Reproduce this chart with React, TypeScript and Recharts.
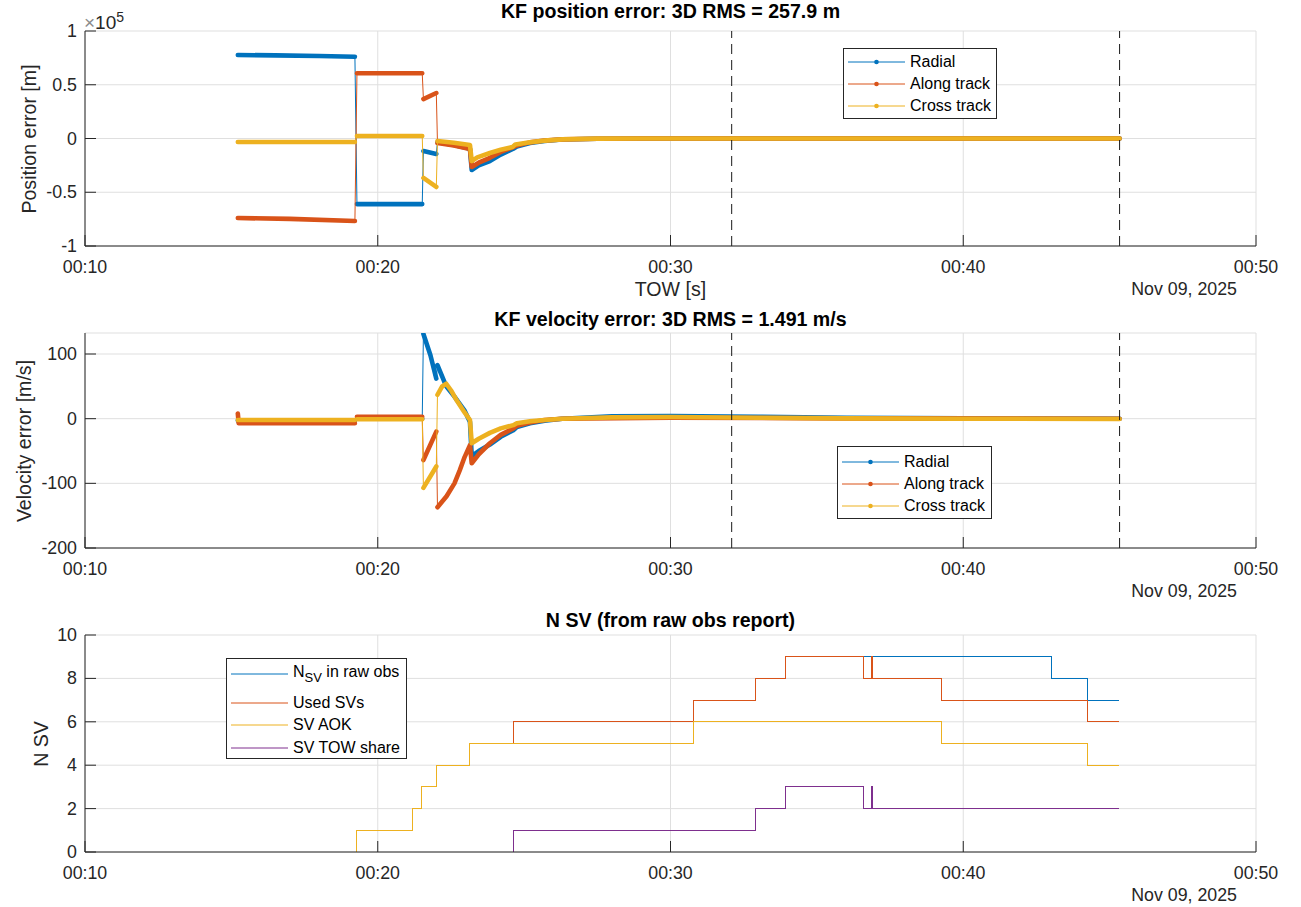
import type { ReactNode } from 'react'
import { LineChart, Line, XAxis, YAxis, CartesianGrid, ReferenceLine } from 'recharts'

// ─── Data ─────────────────────────────────────────────────────────────────────
// time is minutes after 00:00 (Nov 09, 2025). Each series is a list of segments;
// inside a segment the samples are dense (drawn thick), between segments only
// the thin connecting line is visible.

type Pt = [number, number]

// position error, metres
const posRadial: Pt[][] = [
  [[15.22, 77700], [16.5, 77300], [18, 76700], [19.22, 76100]],
  [[19.29, -61000], [21.52, -61000]],
  [[21.56, -11600], [22.0, -14400]],
  [[22.04, -3500], [22.6, -6000], [23.15, -9500], [23.21, -29300], [23.45, -25000], [23.83, -21000], [24.2, -15000], [24.63, -9500], [24.75, -7500], [25.2, -4200], [25.7, -2200], [26.3, -1000], [27.5, -300], [29, 0], [45.34, 0]],
]
const posAlong: Pt[][] = [
  [[15.22, -74000], [17, -74800], [19.22, -76700]],
  [[19.29, 60700], [21.52, 60700]],
  [[21.56, 36700], [22.0, 42300]],
  [[22.04, -4200], [22.6, -6500], [23.15, -9800], [23.21, -26500], [23.45, -22500], [23.83, -18000], [24.2, -12500], [24.63, -8000], [24.75, -6500], [25.2, -3600], [25.7, -1800], [26.3, -800], [27.5, -200], [29, 0], [45.34, 0]],
]
const posCross: Pt[][] = [
  [[15.22, -3300], [19.22, -3300]],
  [[19.29, 2300], [21.52, 2300]],
  [[21.56, -36700], [22.0, -45100]],
  [[22.04, -2300], [22.6, -4000], [23.15, -6000], [23.21, -21000], [23.4, -17500], [23.83, -13500], [24.2, -10500], [24.6, -8000], [24.7, -5500], [25.2, -3500], [25.7, -2000], [26.3, -800], [27.5, -150], [29, 0], [45.34, 0]],
]

// velocity error, m/s
const velRadial: Pt[][] = [
  [[15.22, -3], [19.22, -3]],
  [[19.29, 0], [21.52, 0]],
  [[21.56, 131], [21.8, 98], [22.0, 62]],
  [[22.04, 83], [22.34, 50], [22.62, 34], [22.96, 13], [23.15, -5], [23.21, -58], [23.45, -50], [23.83, -40], [24.2, -28], [24.63, -18], [24.75, -13], [25.2, -7], [25.7, -3], [26.3, 0], [28, 3.5], [30, 4], [33, 3], [36, 1.5], [40, 0.5], [45.34, 0]],
]
const velAlong: Pt[][] = [
  [[15.22, 8], [15.25, -7], [19.22, -7]],
  [[19.29, 3], [21.52, 3]],
  [[21.56, -64], [22.0, -20]],
  [[22.04, -137], [22.35, -120], [22.62, -100], [22.8, -80], [22.97, -59], [23.15, -41], [23.21, -69], [23.45, -55], [23.83, -38], [24.2, -25], [24.63, -15], [24.75, -11], [25.2, -6], [25.7, -2], [26.3, 0], [30, 1.5], [36, 0.5], [45.34, 0]],
]
const velCross: Pt[][] = [
  [[15.22, -2], [19.22, -2]],
  [[19.29, -1], [21.52, -1]],
  [[21.56, -107], [22.0, -74]],
  [[22.04, 37], [22.2, 50], [22.34, 54], [22.5, 44], [22.7, 28], [22.96, 10], [23.15, -2], [23.21, -38], [23.45, -31], [23.83, -22], [24.2, -15], [24.63, -10], [24.75, -7], [25.2, -4], [25.7, -2], [26.3, 0], [28, 2], [30, 2.5], [33, 1.5], [36, 0.5], [40, 0], [45.34, -0.5]],
]

// number of satellites (value holds until the next sample)
const svRaw: Pt[] = [[15.22, 0], [19.29, 1], [21.18, 2], [21.5, 3], [22.01, 4], [23.15, 5], [24.63, 6], [30.78, 7], [32.91, 8], [33.94, 9], [43.03, 8], [44.25, 7], [45.33, 7]]
const svUsed: Pt[] = [[15.22, 0], [19.29, 1], [21.18, 2], [21.5, 3], [22.01, 4], [23.15, 5], [24.63, 6], [30.78, 7], [32.91, 8], [33.94, 9], [36.59, 8], [36.87, 9], [36.9, 8], [39.25, 7], [44.25, 6], [45.33, 6]]
const svAok: Pt[] = [[15.22, 0], [19.29, 1], [21.18, 2], [21.5, 3], [22.01, 4], [23.15, 5], [30.78, 6], [39.25, 5], [44.25, 4], [45.33, 4]]
const svTow: Pt[] = [[15.22, 0], [24.63, 1], [32.91, 2], [33.94, 3], [36.59, 2], [36.87, 3], [36.9, 2], [45.33, 2]]

const timeTicks = [10, 20, 30, 40, 50]
const posTicks = [-100000, -50000, 0, 50000, 100000]
const velTicks = [-200, -100, 0, 100]
const svTicks = [0, 2, 4, 6, 8, 10]
const markerTimes = [32.09, 45.34]

const errLabels = ['Radial', 'Along track', 'Cross track']
const svLabels = ['in raw obs', 'Used SVs', 'SV AOK', 'SV TOW share']

// ─── Style ────────────────────────────────────────────────────────────────────

const FONT = '"Liberation Sans", Arial, Helvetica, sans-serif'
const AX = '#262626'
const GRID = '#dfdfdf'
const BLUE = '#0072BD'
const ORANGE = '#D95319'
const YELLOW = '#EDB120'
const PURPLE = '#7E2F8E'

const PLOT_LEFT = 85
const TICK_LEN = 11
const X_AXIS_H = 54

const fmtTime = (m: number) => `00:${String(m).padStart(2, '0')}`

// ─── Helpers ──────────────────────────────────────────────────────────────────

type Row = { t: number; v: number | null }

const thinData = (segs: Pt[][]): Row[] => segs.flat().map(([t, v]) => ({ t, v }))

const thickData = (segs: Pt[][]): Row[] =>
  segs.flatMap((s, i) => {
    const rows: Row[] = s.map(([t, v]) => ({ t, v }))
    if (i < segs.length - 1) rows.push({ t: (s[s.length - 1][0] + segs[i + 1][0][0]) / 2, v: null })
    return rows
  })

function TimeTick(props: any) {
  const { x, payload, axisY } = props
  return (
    <g>
      <line x1={x} x2={x} y1={axisY} y2={axisY - TICK_LEN} stroke={AX} />
      <text x={x} y={axisY + 21} textAnchor="middle" dominantBaseline="central" fontSize={17.8} fontFamily={FONT} fill={AX}>
        {fmtTime(payload.value)}
      </text>
    </g>
  )
}

function ValueTick(props: any) {
  const { y, payload, fmt } = props
  return (
    <g>
      <line x1={PLOT_LEFT} x2={PLOT_LEFT + TICK_LEN} y1={y} y2={y} stroke={AX} />
      <text x={PLOT_LEFT - 8} y={y} textAnchor="end" dominantBaseline="central" fontSize={17.8} fontFamily={FONT} fill={AX}>
        {fmt(payload.value)}
      </text>
    </g>
  )
}

function Panel({
  top,
  height,
  domain,
  ticks,
  fmt,
  children,
}: {
  top: number
  height: number
  domain: [number, number]
  ticks: number[]
  fmt: (v: number) => string
  children: ReactNode
}) {
  const axisY = height - X_AXIS_H
  return (
    <div style={{ position: 'absolute', left: 0, top, width: 1301, height }}>
      <LineChart width={1301} height={height} margin={{ top: 31, right: 45, bottom: 0, left: 0 }}>
        <CartesianGrid stroke={GRID} />
        <XAxis
          dataKey="t"
          type="number"
          domain={[10, 50]}
          ticks={timeTicks}
          interval={0}
          height={X_AXIS_H}
          allowDataOverflow
          stroke={AX}
          tickSize={0}
          tickLine={false}
          tick={(p: any) => <TimeTick {...p} axisY={axisY} />}
        />
        <YAxis
          type="number"
          domain={domain}
          ticks={ticks}
          interval={0}
          width={PLOT_LEFT}
          allowDataOverflow
          stroke={AX}
          tickSize={0}
          tickLine={false}
          tick={(p: any) => <ValueTick {...p} fmt={fmt} />}
        />
        {children}
      </LineChart>
    </div>
  )
}

function errorLines(series: Pt[][][], colors: string[]) {
  return series.flatMap((segs, i) => [
    <Line key={`thin${i}`} data={thinData(segs)} dataKey="v" type="linear" stroke={colors[i]} strokeWidth={1} dot={false} isAnimationActive={false} />,
    <Line
      key={`thick${i}`}
      data={thickData(segs)}
      dataKey="v"
      type="linear"
      stroke={colors[i]}
      strokeWidth={4.6}
      strokeLinecap="round"
      strokeLinejoin="round"
      dot={false}
      connectNulls={false}
      isAnimationActive={false}
    />,
  ])
}

function markerLines() {
  return markerTimes.map((t) => (
    <ReferenceLine key={t} x={t} stroke="#1a1a1a" strokeWidth={1} strokeDasharray="10 6" />
  ))
}

function Txt({ x, y, size, anchor = 'middle', bold, rotate, children }: {
  x: number
  y: number
  size: number
  anchor?: 'start' | 'middle' | 'end'
  bold?: boolean
  rotate?: boolean
  children: ReactNode
}) {
  const tx = anchor === 'middle' ? '-50%' : anchor === 'end' ? '-100%' : '0'
  return (
    <div
      style={{
        position: 'absolute',
        left: x,
        top: y,
        fontSize: size,
        lineHeight: 1,
        fontWeight: bold ? 'bold' : 'normal',
        color: bold ? '#000' : AX,
        whiteSpace: 'nowrap',
        transform: `translate(${tx}, -50%)${rotate ? ' rotate(-90deg)' : ''}`,
      }}
    >
      {children}
    </div>
  )
}

function LegendBox({ left, top, width, height, labels, colors, rowsY, dot }: {
  left: number
  top: number
  width: number
  height: number
  labels: ReactNode[]
  colors: string[]
  rowsY: number[]
  dot: boolean
}) {
  return (
    <div style={{ position: 'absolute', left, top, width, height, border: `1px solid ${AX}`, background: '#fff', boxSizing: 'border-box' }}>
      {labels.map((label, i) => (
        <div key={i} style={{ position: 'absolute', left: 0, top: rowsY[i] - 12, height: 24, display: 'flex', alignItems: 'center', whiteSpace: 'nowrap' }}>
          <svg width={61} height={10} style={{ display: 'block' }}>
            <line x1={4} x2={61} y1={5} y2={5} stroke={colors[i]} strokeWidth={1} />
            {dot && <circle cx={32.5} cy={5} r={2.3} fill={colors[i]} />}
          </svg>
          <span style={{ marginLeft: 5, fontSize: 16, color: '#000' }}>{label}</span>
        </div>
      ))}
    </div>
  )
}

// ─── App ──────────────────────────────────────────────────────────────────────

export default function App() {
  const errColors = [BLUE, ORANGE, YELLOW]
  const svColors = [BLUE, ORANGE, YELLOW, PURPLE]
  const svSeries = [svRaw, svUsed, svAok, svTow]

  return (
    <div style={{ position: 'absolute', left: 0, top: 0, width: 1301, height: 907, background: '#fff', fontFamily: FONT, overflow: 'hidden' }}>
      <Panel top={0} height={300} domain={[-100000, 100000]} ticks={posTicks} fmt={(v) => (v === 0 ? '0' : String(v / 1e5))}>
        {errorLines([posRadial, posAlong, posCross], errColors)}
        {markerLines()}
      </Panel>

      <Panel top={302} height={300} domain={[-200, 132.5]} ticks={velTicks} fmt={(v) => String(v)}>
        {errorLines([velRadial, velAlong, velCross], errColors)}
        {markerLines()}
      </Panel>

      <Panel top={604} height={302} domain={[0, 10]} ticks={svTicks} fmt={(v) => String(v)}>
        {svSeries.map((s, i) => (
          <Line
            key={i}
            data={s.map(([t, v]) => ({ t, v }))}
            dataKey="v"
            type="stepAfter"
            stroke={svColors[i]}
            strokeWidth={1}
            shapeRendering="crispEdges"
            dot={false}
            isAnimationActive={false}
          />
        ))}
      </Panel>

      {/* titles and axis labels */}
      <Txt x={670.5} y={12} size={19.6} bold>KF position error: 3D RMS = 257.9 m</Txt>
      <Txt x={670.5} y={320} size={19.6} bold>KF velocity error: 3D RMS = 1.491 m/s</Txt>
      <Txt x={670.5} y={621} size={19.6} bold>N SV (from raw obs report)</Txt>

      <Txt x={30} y={138.5} size={19.6} rotate>Position error [m]</Txt>
      <Txt x={25} y={440.5} size={19.6} rotate>Velocity error [m/s]</Txt>
      <Txt x={42} y={743.5} size={19.6} rotate>N SV</Txt>

      <Txt x={670.5} y={290} size={19.6}>TOW [s]</Txt>
      <Txt x={1237} y={290} size={17.8} anchor="end">Nov 09, 2025</Txt>
      <Txt x={1237} y={592} size={17.8} anchor="end">Nov 09, 2025</Txt>
      <Txt x={1237} y={896} size={17.8} anchor="end">Nov 09, 2025</Txt>

      <Txt x={84} y={21} size={19} anchor="start">
        <span style={{ color: '#8c8c8c' }}>×</span>10<sup style={{ fontSize: 14, verticalAlign: 7 }}>5</sup>
      </Txt>

      {/* legends */}
      <LegendBox left={843} top={48} width={154} height={71} labels={errLabels} colors={errColors} rowsY={[13, 35, 57]} dot />
      <LegendBox left={837} top={446} width={155} height={73} labels={errLabels} colors={errColors} rowsY={[14.5, 36.5, 58.5]} dot />
      <LegendBox
        left={226}
        top={658}
        width={181}
        height={101}
        labels={[
          <span key="n">
            N<sub style={{ fontSize: 13, verticalAlign: -5 }}>SV</sub> {svLabels[0]}
          </span>,
          ...svLabels.slice(1),
        ]}
        colors={svColors}
        rowsY={[15, 43.5, 66, 88.5]}
        dot={false}
      />
    </div>
  )
}
